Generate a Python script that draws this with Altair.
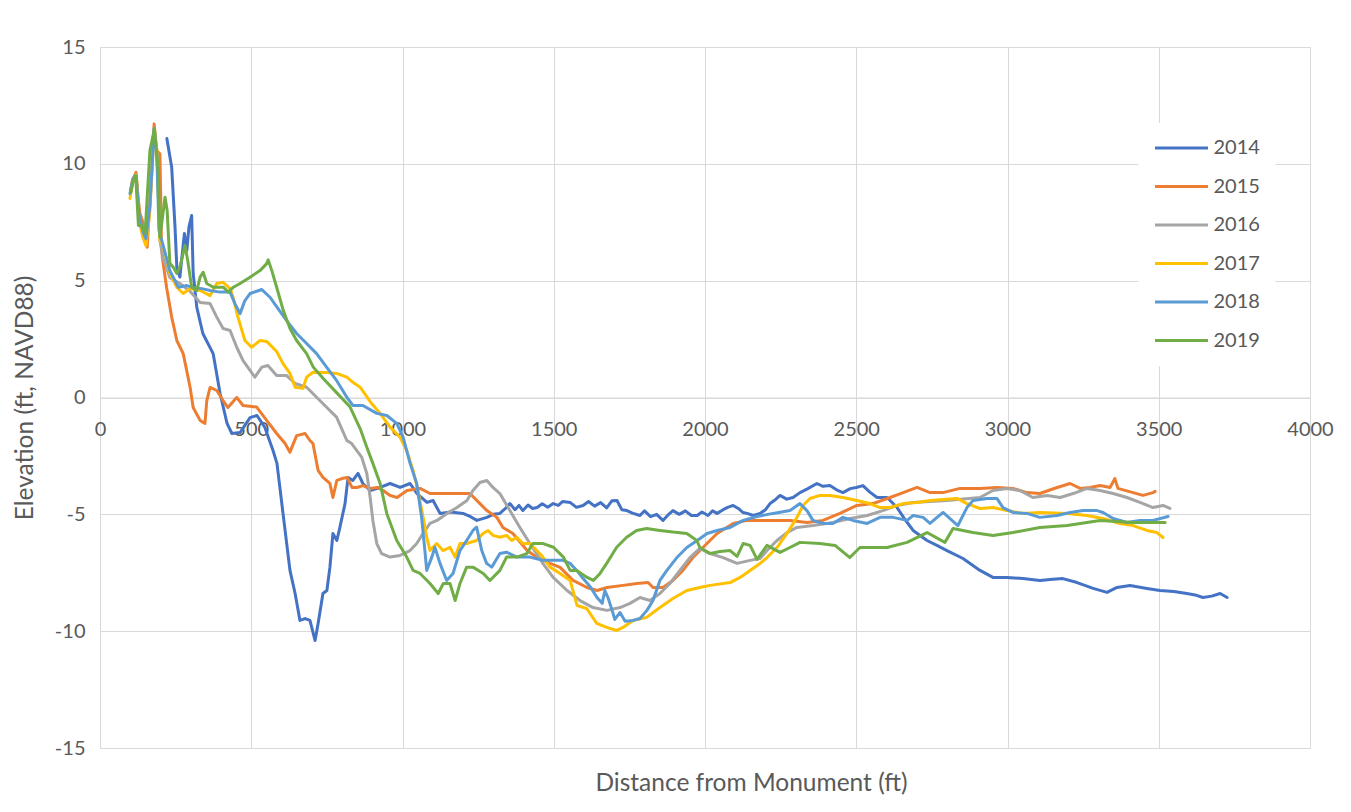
import altair as alt
import pandas as pd

years = ["2014", "2015", "2016", "2017", "2018", "2019"]
colors = ["#4472C4", "#ED7D31", "#A5A5A5", "#FFC000", "#5B9BD5", "#70AD47"]
x_ticks = [0, 500, 1000, 1500, 2000, 2500, 3000, 3500, 4000]
y_ticks = [-15, -10, -5, 0, 5, 10, 15]

dist_2014 = [221, 237, 248, 254, 264, 279, 287, 294, 303, 308, 320, 340, 374, 397, 420, 436, 463, 496, 519, 545,
             572, 585, 605, 628, 645, 661, 678, 694, 711, 721, 737, 750, 760, 770, 783, 793, 810, 820, 836, 853,
             869, 893, 926, 959, 992, 1025, 1048, 1081, 1101, 1124, 1160, 1200, 1225, 1246, 1279, 1300, 1322,
             1340, 1355, 1372, 1385, 1398, 1415, 1430, 1445, 1462, 1480, 1498, 1515, 1530, 1554, 1575, 1597,
             1615, 1635, 1655, 1675, 1692, 1709, 1725, 1742, 1760, 1785, 1800, 1820, 1840, 1861, 1880, 1894,
             1915, 1935, 1955, 1974, 1990, 2010, 2025, 2040, 2060, 2075, 2093, 2110, 2125, 2139, 2160, 2182,
             2200, 2215, 2230, 2248, 2270, 2291, 2314, 2340, 2370, 2390, 2413, 2435, 2456, 2480, 2500, 2522,
             2545, 2569, 2602, 2635, 2660, 2688, 2734, 2770, 2800, 2853, 2909, 2952, 2998, 3051, 3107, 3150,
             3183, 3230, 3283, 3329, 3362, 3405, 3461, 3504, 3550, 3593, 3620, 3646, 3675, 3703, 3726]
elev_2014 = [11.08, 9.85, 7.29, 5.56, 5.15, 7.02, 6.29, 7.29, 7.79, 5.31, 3.86, 2.74, 1.88, 0.17, -1.11, -1.54,
             -1.50, -0.86, -0.77, -1.28, -2.27, -2.82, -4.96, -7.40, -8.39, -9.54, -9.46, -9.54, -10.40, -9.67,
             -8.39, -8.26, -7.27, -5.82, -6.12, -5.56, -4.54, -3.42, -3.55, -3.25, -3.68, -3.98, -3.85, -3.68,
             -3.85, -3.68, -4.11, -4.49, -4.41, -4.96, -4.90, -4.96, -5.10, -5.26, -5.13, -5.00, -4.96,
             -4.75, -4.54, -4.80, -4.62, -4.84, -4.60, -4.75, -4.71, -4.55, -4.70, -4.54, -4.62, -4.45, -4.49,
             -4.70, -4.62, -4.45, -4.65, -4.50, -4.72, -4.42, -4.41, -4.80, -4.84, -4.95, -5.05, -4.85, -5.10,
             -5.00, -5.26, -5.00, -4.84, -5.00, -4.85, -5.05, -5.05, -4.90, -5.05, -4.85, -4.96, -4.80, -4.70,
             -4.62, -4.75, -4.92, -4.96, -5.05, -4.96, -4.80, -4.54, -4.40, -4.19, -4.35, -4.28, -4.07, -3.90,
             -3.68, -3.80, -3.77, -3.95, -4.07, -3.90, -3.85, -3.77, -4.05, -4.28, -4.28, -4.71, -5.20, -5.69,
             -6.12, -6.35, -6.55, -6.89, -7.40, -7.70, -7.70, -7.75, -7.83, -7.78, -7.75, -7.92, -8.17, -8.34,
             -8.13, -8.05, -8.17, -8.26, -8.30, -8.39, -8.45, -8.56, -8.50, -8.39, -8.56]

dist_2015 = [101, 107, 119, 127, 132, 140, 149, 156, 165, 179, 187, 198, 201, 203, 206, 220, 237, 254, 275, 298,
             308, 331, 347, 353, 364, 386, 407, 423, 452, 473, 518, 551, 584, 612, 628, 650, 678, 694, 704, 721,
             737, 760, 770, 783, 800, 817, 833, 850, 869, 893, 916, 936, 959, 982, 1015, 1058, 1091, 1124, 1180,
             1223, 1256, 1279, 1312, 1332, 1365, 1412, 1445, 1488, 1521, 1554, 1564, 1610, 1643, 1676, 1729,
             1775, 1812, 1828, 1861, 1894, 1927, 1960, 1993, 2040, 2093, 2139, 2225, 2281, 2337, 2390, 2446,
             2502, 2555, 2612, 2655, 2701, 2744, 2787, 2843, 2909, 2965, 3018, 3064, 3107, 3164, 3207, 3240,
             3273, 3306, 3339, 3355, 3365, 3415, 3448, 3481, 3488]
elev_2015 = [8.86, 9.29, 9.64, 8.43, 7.87, 7.57, 7.02, 6.43, 8.43, 11.71, 10.57, 10.43, 8.43, 6.59, 6.00, 4.72,
             3.44, 2.44, 1.88, 0.43, -0.43, -0.98, -1.11, -0.13, 0.43, 0.30, -0.13, -0.43, 0.0, -0.34, -0.41,
             -0.98, -1.54, -1.97, -2.34, -1.63, -1.54, -1.84, -1.97, -3.12, -3.42, -3.68, -4.28, -3.55, -3.47,
             -3.42, -3.85, -3.85, -3.77, -3.89, -3.85, -3.98, -4.19, -4.28, -3.98, -3.89, -4.11, -4.11, -4.11,
             -4.11, -4.54, -4.84, -5.13, -5.56, -5.82, -6.55, -6.85, -7.10, -7.27, -7.70, -7.83, -8.13, -8.26,
             -8.13, -8.04, -7.96, -7.92, -8.13, -8.13, -7.83, -7.40, -6.85, -6.42, -5.82, -5.39, -5.26, -5.26,
             -5.26, -5.35, -5.26, -4.96, -4.62, -4.54, -4.28, -4.07, -3.85, -4.07, -4.07, -3.89, -3.89, -3.85,
             -3.89, -4.07, -4.11, -3.85, -3.68, -3.89, -3.85, -3.77, -3.85, -3.47, -3.89, -4.07, -4.19, -4.07,
             -4.02]

dist_2016 = [101, 109, 119, 129, 142, 152, 165, 179, 188, 198, 208, 231, 264, 298, 331, 364, 386, 407, 430, 452,
             473, 496, 512, 535, 555, 584, 617, 645, 683, 716, 749, 782, 816, 832, 849, 865, 882, 893, 902, 915,
             931, 959, 992, 1025, 1047, 1068, 1091, 1114, 1147, 1180, 1213, 1233, 1256, 1279, 1299, 1322, 1355,
             1388, 1421, 1464, 1498, 1544, 1587, 1630, 1676, 1719, 1752, 1785, 1818, 1851, 1884, 1917, 1950,
             1983, 2017, 2060, 2106, 2149, 2182, 2205, 2238, 2271, 2304, 2357, 2423, 2479, 2536, 2588, 2635,
             2688, 2800, 2909, 2952, 2998, 3041, 3084, 3131, 3174, 3217, 3263, 3306, 3349, 3395, 3438, 3481,
             3514, 3537]
elev_2016 = [8.77, 9.37, 9.54, 7.79, 6.89, 6.63, 8.22, 11.51, 10.57, 6.72, 5.99, 5.13, 4.88, 4.54, 4.07, 4.02,
             3.44, 2.95, 2.87, 2.15, 1.58, 1.16, 0.87, 1.30, 1.37, 0.94, 0.94, 0.60, 0.44, 0.01, -0.42, -0.84,
             -1.84, -1.97, -2.27, -2.55, -3.25, -4.27, -5.26, -6.25, -6.68, -6.83, -6.76, -6.55, -6.25, -5.82,
             -5.39, -5.26, -4.96, -4.71, -4.41, -3.98, -3.64, -3.55, -3.85, -4.11, -4.84, -5.56, -6.25, -7.10,
             -7.70, -8.26, -8.69, -8.99, -9.11, -8.99, -8.81, -8.56, -8.69, -8.39, -7.96, -7.40, -6.85, -6.46,
             -6.68, -6.85, -7.10, -6.97, -6.89, -6.55, -6.12, -5.78, -5.56, -5.48, -5.35, -5.18, -5.05, -4.84,
             -4.62, -4.49, -4.41, -4.28, -3.98, -3.89, -3.98, -4.28, -4.19, -4.28, -4.11, -3.89, -3.98, -4.11,
             -4.28, -4.49, -4.71, -4.62, -4.75]

dist_2017 = [99, 109, 119, 129, 142, 152, 165, 179, 188, 198, 204, 215, 231, 254, 275, 298, 331, 364, 386, 407,
             430, 440, 456, 479, 501, 529, 551, 584, 605, 628, 645, 671, 683, 704, 749, 782, 816, 836, 860, 898,
             926, 959, 992, 1014, 1035, 1051, 1068, 1080, 1091, 1101, 1113, 1134, 1157, 1174, 1190, 1212, 1245,
             1266, 1283, 1299, 1322, 1344, 1361, 1378, 1398, 1421, 1444, 1464, 1488, 1521, 1554, 1577, 1609,
             1642, 1675, 1708, 1729, 1762, 1807, 1851, 1894, 1940, 1983, 2017, 2083, 2116, 2149, 2182, 2205,
             2238, 2271, 2304, 2324, 2347, 2380, 2413, 2456, 2502, 2545, 2579, 2612, 2655, 2701, 2744, 2833,
             2866, 2909, 2952, 2998, 3051, 3107, 3197, 3263, 3316, 3372, 3415, 3461, 3494, 3514]
elev_2017 = [8.52, 9.29, 9.54, 7.57, 6.85, 6.50, 8.00, 11.43, 10.57, 6.72, 6.59, 6.16, 5.31, 4.72, 4.45, 4.66,
             4.58, 4.36, 4.88, 4.93, 4.66, 4.29, 3.44, 2.44, 2.15, 2.44, 2.40, 1.97, 1.45, 1.03, 0.44, 0.39,
             0.87, 1.08, 1.07, 1.03, 0.87, 0.65, 0.44, -0.26, -0.68, -1.27, -1.70, -2.27, -3.12, -3.98, -5.12,
             -5.98, -6.55, -6.41, -6.25, -6.55, -6.41, -6.83, -6.25, -6.25, -6.12, -5.82, -5.69, -5.90, -5.98,
             -5.90, -6.12, -5.98, -6.25, -6.25, -6.55, -6.83, -7.26, -7.53, -7.83, -8.90, -9.03, -9.67, -9.84,
             -9.97, -9.84, -9.54, -9.41, -8.99, -8.60, -8.26, -8.13, -8.04, -7.92, -7.70, -7.40, -7.10, -6.85,
             -6.42, -5.82, -5.13, -4.62, -4.32, -4.19, -4.19, -4.28, -4.41, -4.54, -4.71, -4.71, -4.54, -4.49,
             -4.41, -4.32, -4.54, -4.75, -4.71, -4.84, -4.96, -4.92, -4.96, -5.05, -5.18, -5.39, -5.48, -5.69,
             -5.78, -5.99]

dist_2018 = [99, 109, 119, 129, 142, 152, 165, 179, 188, 195, 204, 231, 259, 287, 308, 336, 364, 397, 430, 446,
             463, 479, 496, 535, 562, 588, 617, 650, 683, 716, 749, 782, 816, 836, 869, 915, 948, 981, 1002,
             1025, 1047, 1063, 1074, 1080, 1097, 1107, 1124, 1146, 1167, 1190, 1212, 1233, 1245, 1262, 1278,
             1295, 1322, 1344, 1378, 1421, 1464, 1498, 1531, 1554, 1576, 1597, 1620, 1643, 1660, 1669, 1679,
             1693, 1702, 1719, 1736, 1762, 1785, 1808, 1828, 1851, 1874, 1907, 1940, 1974, 2007, 2040, 2083,
             2126, 2172, 2225, 2281, 2314, 2337, 2357, 2390, 2423, 2456, 2489, 2536, 2579, 2622, 2668, 2688,
             2721, 2744, 2767, 2787, 2810, 2836, 2866, 2886, 2932, 2965, 2985, 3018, 3064, 3107, 3164, 3207,
             3250, 3296, 3316, 3349, 3395, 3438, 3481, 3531]
elev_2018 = [8.73, 9.33, 9.50, 7.79, 7.10, 6.80, 8.22, 11.51, 10.36, 7.15, 6.72, 5.43, 4.72, 4.79, 4.71, 4.66,
             4.58, 4.51, 4.51, 4.02, 3.59, 4.15, 4.45, 4.62, 4.29, 3.81, 3.29, 2.74, 2.31, 1.88, 1.30, 0.73,
             0.01, -0.34, -0.34, -0.68, -0.77, -1.11, -1.70, -2.82, -3.68, -5.12, -6.55, -7.40, -6.83, -6.41,
             -7.10, -7.83, -7.53, -6.55, -6.12, -5.69, -5.55, -6.55, -7.10, -7.26, -6.68, -6.62, -6.83, -6.83,
             -6.97, -6.97, -6.97, -7.10, -7.40, -7.75, -8.09, -8.56, -8.81, -8.26, -8.56, -9.11, -9.50, -9.20,
             -9.58, -9.54, -9.46, -9.11, -8.69, -7.83, -7.40, -6.85, -6.42, -6.12, -5.82, -5.69, -5.56, -5.26,
             -5.09, -4.96, -4.84, -4.54, -4.84, -5.26, -5.39, -5.39, -5.13, -5.26, -5.39, -5.13, -5.13, -5.26,
             -5.05, -5.13, -5.39, -5.13, -4.92, -5.18, -5.48, -4.71, -4.41, -4.32, -4.32, -4.71, -4.92, -4.96,
             -5.13, -5.05, -4.92, -4.84, -4.84, -4.92, -5.18, -5.35, -5.26, -5.26, -5.09]

dist_2019 = [102, 110, 118, 127, 138, 149, 165, 180, 193, 198, 215, 222, 231, 242, 254, 264, 281, 290, 303, 320,
             331, 341, 353, 375, 408, 424, 441, 463, 496, 529, 551, 556, 568, 584, 606, 628, 650, 683, 705, 738,
             782, 826, 860, 882, 902, 926, 948, 981, 1014, 1035, 1058, 1091, 1118, 1135, 1157, 1174, 1190, 1212,
             1233, 1267, 1289, 1322, 1344, 1378, 1411, 1431, 1465, 1499, 1532, 1554, 1576, 1609, 1631, 1653,
             1675, 1708, 1741, 1774, 1807, 1851, 1894, 1940, 1973, 1983, 2017, 2050, 2083, 2106, 2126, 2149,
             2172, 2205, 2248, 2281, 2314, 2380, 2430, 2479, 2512, 2602, 2668, 2734, 2793, 2820, 2886, 2952,
             3018, 3107, 3197, 3306, 3415, 3521]
elev_2019 = [8.78, 9.29, 9.50, 7.36, 7.36, 7.02, 10.57, 11.50, 9.59, 6.86, 8.57, 8.00, 5.73, 5.58, 5.31, 5.58,
             6.50, 5.86, 4.72, 4.58, 5.15, 5.36, 4.88, 4.72, 4.72, 4.51, 4.72, 4.88, 5.15, 5.43, 5.73, 5.89,
             5.43, 4.72, 3.72, 2.95, 2.44, 1.88, 1.30, 0.81, 0.21, -0.39, -1.33, -2.13, -2.82, -3.68, -4.96,
             -6.12, -6.83, -7.40, -7.53, -7.96, -8.39, -7.96, -7.96, -8.69, -7.96, -7.26, -7.26, -7.53, -7.83,
             -7.40, -6.83, -6.83, -6.68, -6.25, -6.25, -6.41, -6.83, -7.40, -7.40, -7.69, -7.83, -7.53, -7.10,
             -6.41, -5.98, -5.69, -5.61, -5.69, -5.76, -5.82, -6.12, -6.42, -6.68, -6.59, -6.55, -6.80, -6.25,
             -6.33, -6.93, -6.33, -6.63, -6.42, -6.20, -6.25, -6.33, -6.85, -6.42, -6.42, -6.20, -5.78, -6.20,
             -5.61, -5.78, -5.91, -5.78, -5.56, -5.48, -5.26, -5.35, -5.35]

series = {
    "2014": (dist_2014, elev_2014),
    "2015": (dist_2015, elev_2015),
    "2016": (dist_2016, elev_2016),
    "2017": (dist_2017, elev_2017),
    "2018": (dist_2018, elev_2018),
    "2019": (dist_2019, elev_2019),
}

rows = []
for yr in years:
    d, e = series[yr]
    assert len(d) == len(e), (yr, len(d), len(e))
    for i, (a, b) in enumerate(zip(d, e)):
        rows.append({"Year": yr, "Distance": a, "Elevation": b, "idx": i})
df = pd.DataFrame(rows)

FONT = "Lato"
TXT = "#595959"
GRID = "#D9D9D9"

chart = alt.Chart(df).mark_line(strokeWidth=3, strokeJoin="round", strokeCap="round").encode(
    x=alt.X(
        "Distance:Q",
        scale=alt.Scale(domain=[0, 4000], nice=False, zero=False),
        axis=alt.Axis(
            values=x_ticks, offset=-350.5, grid=True, gridColor=GRID, gridWidth=1,
            domain=True, domainColor=GRID, domainWidth=1, ticks=False,
            labelFont=FONT, labelFontSize=20, labelColor=TXT, labelPadding=32,
            labelBaseline="middle", labelOverlap=False, labelFlush=False,
            labelExpr="'' + datum.value",
            title="Distance from Monument (ft)", titleFont=FONT, titleFontSize=24.5,
            titleFontWeight="normal", titleColor=TXT, titleX=651, titleY=386,
            titleBaseline="middle", titleAlign="center",
        ),
    ),
    y=alt.Y(
        "Elevation:Q",
        scale=alt.Scale(domain=[-15, 15], nice=False, zero=False),
        axis=alt.Axis(
            values=y_ticks, grid=True, gridColor=GRID, gridWidth=1, domain=False, ticks=False,
            labelFont=FONT, labelFontSize=20, labelColor=TXT, labelPadding=15,
            labelExpr="'' + datum.value",
            title="Elevation (ft, NAVD88)", titleFont=FONT, titleFontSize=24.5,
            titleFontWeight="normal", titleColor=TXT, titleX=-75, titleY=350.5,
            titleBaseline="middle", titleAlign="center", titleAngle=270,
        ),
    ),
    color=alt.Color(
        "Year:N",
        scale=alt.Scale(domain=years, range=colors),
        legend=alt.Legend(
            title=None, orient="none", legendX=1038.5, legendY=76,
            symbolType="stroke", symbolSize=2809, symbolStrokeWidth=3, clipHeight=20,
            rowPadding=18.5, labelOffset=4, padding=15, fillColor="white",
            labelFont=FONT, labelFontSize=20, labelColor=TXT,
        ),
    ),
    order=alt.Order("idx:Q"),
).properties(
    width=1210,
    height=701,
    autosize=alt.AutoSizeParams(type="none"),
    padding={"left": 92, "top": 39, "right": 33, "bottom": 57},
    background="white",
).configure_view(strokeWidth=0)

chart.save("out.html", embed_options={"renderer": "svg", "actions": False})
